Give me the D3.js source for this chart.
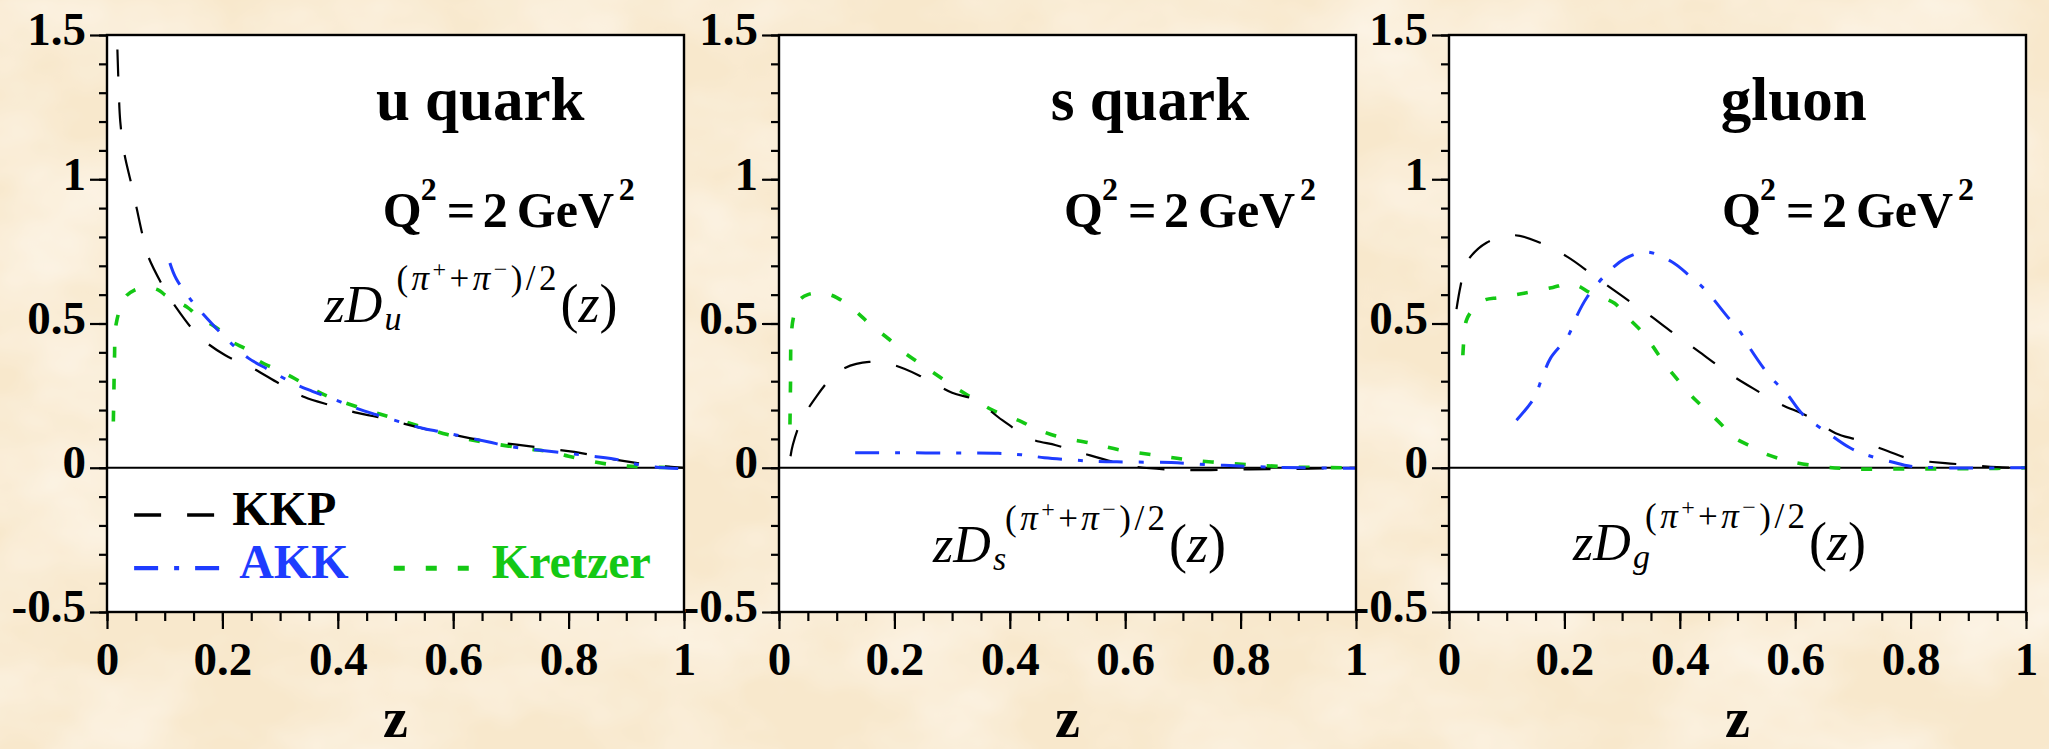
<!DOCTYPE html>
<html><head><meta charset="utf-8">
<script src="https://cdn.jsdelivr.net/npm/d3@7"></script>
<style>
html,body{margin:0;padding:0;background:#f9ebd2;}
svg{display:block;}
</style></head>
<body>
<script>
// ---------- data ----------
const zTicks = [0, 0.2, 0.4, 0.6, 0.8, 1];
const yTicks = [-0.5, 0, 0.5, 1, 1.5];
const panelTitles = ["u quark", "s quark", "gluon"];
const flavours = ["u", "s", "g"];
const seriesNames = ["KKP", "AKK", "Kretzer"];
const scaleLabel = "2";

// u quark
const kkpU = [[0.018,1.45],[0.020,1.33],[0.023,1.20],[0.03,1.09],[0.045,0.96],[0.06,0.82],[0.07,0.74],[0.094,0.64],[0.12,0.555],[0.16,0.455],[0.205,0.39],[0.248,0.35],[0.30,0.29],[0.342,0.245],[0.39,0.215],[0.434,0.19],[0.47,0.175],[0.55,0.135],[0.58,0.123],[0.65,0.095],[0.71,0.08],[0.77,0.065],[0.81,0.055],[0.86,0.036],[0.90,0.022],[0.95,0.008],[1.0,0.0]];
const akkU = [[0.109,0.71],[0.12,0.655],[0.148,0.575],[0.17,0.525],[0.213,0.435],[0.245,0.38],[0.28,0.34],[0.326,0.29],[0.356,0.265],[0.396,0.235],[0.434,0.205],[0.465,0.185],[0.547,0.137],[0.58,0.124],[0.66,0.09],[0.70,0.073],[0.79,0.052],[0.84,0.04],[0.89,0.026],[0.915,0.013],[0.95,0.003],[0.99,-0.003]];
const kreU = [[0.011,0.16],[0.012,0.27],[0.013,0.38],[0.016,0.50],[0.031,0.59],[0.047,0.615],[0.07,0.625],[0.09,0.615],[0.1,0.60],[0.14,0.555],[0.155,0.53],[0.2,0.47],[0.21,0.445],[0.25,0.40],[0.26,0.375],[0.3,0.335],[0.32,0.315],[0.36,0.27],[0.38,0.25],[0.45,0.2],[0.5,0.17],[0.59,0.115],[0.65,0.09],[0.72,0.068],[0.77,0.055],[0.8,0.04],[0.87,0.012],[0.93,0.003],[1.0,0.0]];

// s quark
const kkpS = [[0.02,0.04],[0.024,0.08],[0.039,0.165],[0.066,0.25],[0.09,0.31],[0.113,0.345],[0.156,0.367],[0.2,0.355],[0.248,0.315],[0.3,0.26],[0.34,0.235],[0.387,0.165],[0.437,0.10],[0.48,0.078],[0.527,0.05],[0.58,0.02],[0.62,0.003],[0.7,-0.008],[0.8,-0.006],[0.9,-0.004],[1.0,0.0]];
const akkS = [[0.132,0.052],[0.2,0.052],[0.3,0.051],[0.38,0.05],[0.42,0.045],[0.46,0.035],[0.51,0.027],[0.55,0.022],[0.6,0.02],[0.68,0.018],[0.75,0.01],[0.79,0.007],[0.85,0.002],[0.92,0.0],[1.0,-0.002]];
const kreS = [[0.019,0.15],[0.020,0.30],[0.021,0.45],[0.025,0.52],[0.035,0.58],[0.05,0.60],[0.075,0.605],[0.1,0.59],[0.14,0.53],[0.156,0.50],[0.194,0.44],[0.21,0.41],[0.26,0.34],[0.32,0.26],[0.37,0.20],[0.42,0.16],[0.44,0.14],[0.48,0.11],[0.54,0.085],[0.59,0.062],[0.65,0.044],[0.7,0.03],[0.75,0.02],[0.82,0.01],[0.9,0.002],[1.0,0.0]];

// gluon
const kkpG = [[0.013,0.55],[0.02,0.63],[0.03,0.71],[0.065,0.78],[0.113,0.806],[0.158,0.78],[0.206,0.73],[0.25,0.667],[0.298,0.598],[0.343,0.535],[0.39,0.465],[0.435,0.40],[0.483,0.33],[0.527,0.275],[0.575,0.22],[0.62,0.18],[0.67,0.12],[0.71,0.095],[0.76,0.058],[0.80,0.03],[0.86,0.016],[0.9,0.01],[0.95,0.002],[1.0,0.0]];
const akkG = [[0.117,0.165],[0.147,0.24],[0.161,0.31],[0.176,0.38],[0.206,0.455],[0.22,0.52],[0.239,0.59],[0.272,0.67],[0.305,0.725],[0.343,0.748],[0.386,0.714],[0.416,0.667],[0.445,0.615],[0.48,0.53],[0.505,0.47],[0.523,0.41],[0.557,0.315],[0.586,0.255],[0.613,0.185],[0.657,0.12],[0.694,0.07],[0.723,0.045],[0.768,0.02],[0.8,0.005],[0.85,0.0],[1.0,0.0]];
const kreG = [[0.024,0.39],[0.026,0.45],[0.03,0.51],[0.04,0.545],[0.06,0.58],[0.087,0.59],[0.13,0.605],[0.18,0.625],[0.2,0.635],[0.22,0.633],[0.246,0.605],[0.287,0.57],[0.305,0.53],[0.335,0.47],[0.35,0.43],[0.376,0.355],[0.39,0.32],[0.42,0.25],[0.435,0.22],[0.472,0.15],[0.49,0.11],[0.527,0.07],[0.546,0.05],[0.59,0.022],[0.65,0.003],[0.7,-0.004],[0.8,-0.004],[0.92,-0.003],[1.0,0.0]];

// ---------- layout (positions / styles, not data) ----------
const W = 2049, H = 749;
const panelLeft = [107, 779, 1449];
const panelW = 577, plotTop = 35, plotBottom = 612;
const titlePos = [[0.466, 1.207], [0.471, 1.207], [0.471, 1.207]];
const qPos = [[0.478, 0.834], [0.494, 0.834], [0.473, 0.834]];
const formulaPos = [[0.377, 0.505], [0.267, -0.327], [0.215, -0.320]];
const colors = {KKP: "#000000", AKK: "#1e3cff", Kretzer: "#14c814"};
const dashes = {KKP: "27,26", AKK: "24,16,5,16", Kretzer: "11,21"};
const widths = {KKP: 2.2, AKK: 3, Kretzer: 3.6};
const FONT = "Liberation Serif, Times New Roman, serif";

const panels = [
  {title: panelTitles[0], fl: flavours[0], series: {KKP: kkpU, AKK: akkU, Kretzer: kreU}},
  {title: panelTitles[1], fl: flavours[1], series: {KKP: kkpS, AKK: akkS, Kretzer: kreS}},
  {title: panelTitles[2], fl: flavours[2], series: {KKP: kkpG, AKK: akkG, Kretzer: kreG}}
];

const svg = d3.select("body").append("svg").attr("width", W).attr("height", H)
  .style("font-family", FONT);

const defs = svg.append("defs");
const filt = defs.append("filter").attr("id", "paper").attr("x", 0).attr("y", 0).attr("width", 1).attr("height", 1);
filt.append("feTurbulence").attr("type", "fractalNoise").attr("baseFrequency", "0.006 0.009").attr("numOctaves", 4).attr("seed", 7).attr("result", "n");
filt.append("feColorMatrix").attr("in", "n").attr("type", "matrix")
  .attr("values", "0 0 0 0 1  0 0 0 0 0.975  0 0 0 0 0.94  1.2 0 0 0 -0.42");
svg.append("rect").attr("width", W).attr("height", H).attr("fill", "#f8e8cc");
svg.append("rect").attr("width", W).attr("height", H).attr("filter", "url(#paper)");

panels.forEach((p, i) => {
  const x = d3.scaleLinear().domain([0, 1]).range([panelLeft[i], panelLeft[i] + panelW]);
  const y = d3.scaleLinear().domain([-0.5, 1.5]).range([plotBottom, plotTop]);
  const g = svg.append("g");

  g.append("clipPath").attr("id", "clip" + i).append("rect")
    .attr("x", x(0)).attr("y", y(1.5)).attr("width", x(1) - x(0)).attr("height", y(-0.5) - y(1.5));

  g.append("rect").attr("x", x(0)).attr("y", y(1.5)).attr("width", x(1) - x(0))
    .attr("height", y(-0.5) - y(1.5)).attr("fill", "#ffffff");

  // zero line
  g.append("line").attr("x1", x(0)).attr("x2", x(1)).attr("y1", y(0)).attr("y2", y(0))
    .attr("stroke", "#000").attr("stroke-width", 2.2);

  // curves
  const line = d3.line().x(d => x(d[0])).y(d => y(d[1])).curve(d3.curveCatmullRom.alpha(0.5));
  const cg = g.append("g").attr("clip-path", "url(#clip" + i + ")");
  ["Kretzer", "KKP", "AKK"].forEach(name => {
    cg.append("path").datum(p.series[name]).attr("d", line)
      .attr("fill", "none").attr("stroke", colors[name]).attr("stroke-width", widths[name])
      .attr("stroke-dasharray", dashes[name]);
  });

  // frame
  g.append("rect").attr("x", x(0)).attr("y", y(1.5)).attr("width", x(1) - x(0))
    .attr("height", y(-0.5) - y(1.5)).attr("fill", "none").attr("stroke", "#000").attr("stroke-width", 2.4);

  // y axis
  const yMinor = g.append("g").attr("transform", `translate(${x(0)},0)`)
    .call(d3.axisLeft(y).tickValues(d3.range(-5, 16).map(k => k / 10)).tickSize(8).tickFormat(""));
  const yMajor = g.append("g").attr("transform", `translate(${x(0)},0)`)
    .call(d3.axisLeft(y).tickValues(yTicks).tickSize(17).tickPadding(4).tickFormat(d => String(d)));
  // x axis
  const xMinor = g.append("g").attr("transform", `translate(0,${y(-0.5)})`)
    .call(d3.axisBottom(x).tickValues(d3.range(0, 21).map(k => k / 20)).tickSize(9).tickFormat(""));
  const xMajor = g.append("g").attr("transform", `translate(0,${y(-0.5)})`)
    .call(d3.axisBottom(x).tickValues(zTicks).tickSize(17).tickPadding(13).tickFormat(d => String(d)));
  [yMinor, yMajor, xMinor, xMajor].forEach(a => {
    a.select(".domain").remove();
    a.selectAll(".tick line").attr("stroke", "#000").attr("stroke-width", 2.2);
    a.selectAll("text").attr("font-family", null).style("font-family", FONT).attr("font-weight", "bold")
      .attr("font-size", 47).attr("fill", "#000");
  });
  yMajor.selectAll("text").attr("dy", "0.21em");
  xMajor.selectAll("text").attr("dy", "0.71em");

  // axis title
  g.append("text").attr("x", x(0.5)).attr("y", 737).attr("text-anchor", "middle")
    .attr("font-weight", "bold").attr("font-size", 56).text("z");

  // panel title
  g.append("text").attr("x", x(titlePos[i][0])).attr("y", y(titlePos[i][1]))
    .attr("font-weight", "bold").attr("font-size", 61).text(p.title);

  // Q^2 label
  const qx = x(qPos[i][0]), qy = y(qPos[i][1]);
  const qt = g.append("text").attr("font-weight", "bold").attr("font-size", 50);
  qt.append("tspan").attr("x", qx).attr("y", qy).text("Q");
  qt.append("tspan").attr("x", qx + 38).attr("y", qy - 27).attr("font-size", 32).text("2");
  qt.append("tspan").attr("x", qx + 64).attr("y", qy).text("=");
  qt.append("tspan").attr("x", qx + 100).attr("y", qy).text(scaleLabel);
  qt.append("tspan").attr("x", qx + 134).attr("y", qy).text("GeV");
  qt.append("tspan").attr("x", qx + 236).attr("y", qy - 27).attr("font-size", 32).text("2");

  // formula zD_f^{(pi+ + pi-)/2}(z)
  const fx = x(formulaPos[i][0]), fy = y(formulaPos[i][1]);
  g.append("text").attr("x", fx).attr("y", fy).attr("font-style", "italic").attr("font-size", 52).text("zD");
  g.append("text").attr("x", fx + 60).attr("y", fy + 8).attr("font-style", "italic").attr("font-size", 34).text(p.fl);
  const sup = g.append("text").attr("x", fx + 72).attr("y", fy - 32).attr("font-size", 35)
    .attr("textLength", 160).attr("lengthAdjust", "spacing");
  sup.append("tspan").text("(");
  sup.append("tspan").attr("font-style", "italic").text("π");
  sup.append("tspan").attr("font-size", 24).attr("dy", -13).text("+");
  sup.append("tspan").attr("dy", 13).text("+");
  sup.append("tspan").attr("font-style", "italic").text("π");
  sup.append("tspan").attr("font-size", 24).attr("dy", -13).text("−");
  sup.append("tspan").attr("dy", 13).text(")/2");
  const pz = g.append("text").attr("x", fx + 236).attr("y", fy).attr("font-size", 54);
  pz.append("tspan").text("(");
  pz.append("tspan").attr("font-style", "italic").text("z");
  pz.append("tspan").text(")");

  // legend (first panel only)
  if (i === 0) {
    const leg = [
      {name: seriesNames[0], lz: [0.047, 0.189], ly: -0.164, tz: 0.217, ty: -0.198},
      {name: seriesNames[1], lz: [0.047, 0.202], ly: -0.348, tz: 0.229, ty: -0.383},
      {name: seriesNames[2], lz: [0.497, 0.628], ly: -0.348, tz: 0.667, ty: -0.383}
    ];
    leg.forEach(l => {
      g.append("line").attr("x1", x(l.lz[0])).attr("x2", x(l.lz[1])).attr("y1", y(l.ly)).attr("y2", y(l.ly))
        .attr("stroke", colors[l.name]).attr("stroke-width", widths[l.name] + 1.4)
        .attr("stroke-dasharray", dashes[l.name]);
      g.append("text").attr("x", x(l.tz)).attr("y", y(l.ty)).attr("font-weight", "bold")
        .attr("font-size", 48).attr("fill", colors[l.name]).text(l.name);
    });
  }
});
</script>
</body></html>
